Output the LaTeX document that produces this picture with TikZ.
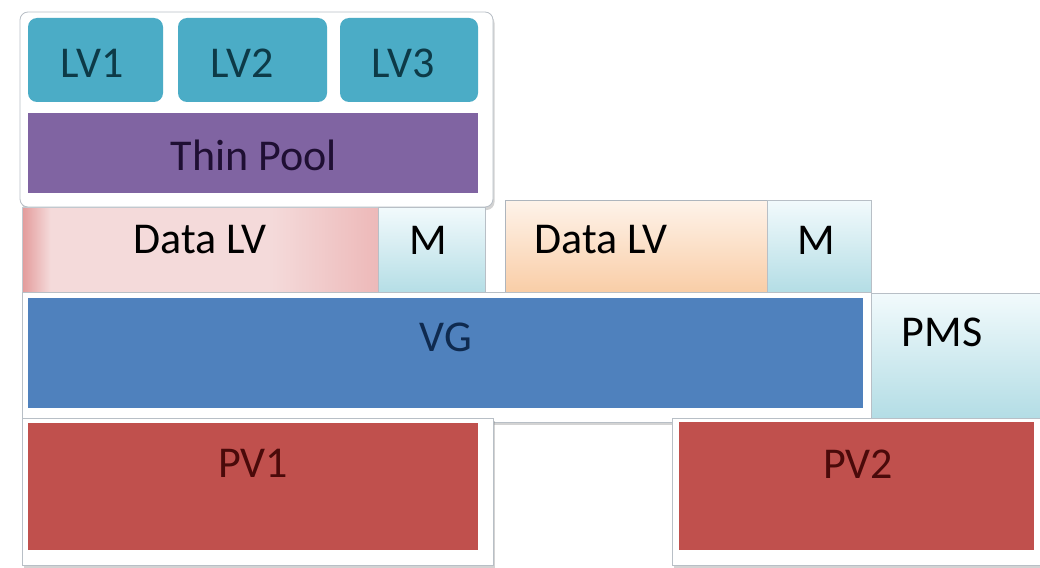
\documentclass[tikz,border=0pt]{standalone}
\usepackage{fontspec}
\setmainfont{Carlito}
\usetikzlibrary{shadows}
\usetikzlibrary{positioning}

\definecolor{lvaqua}{HTML}{4BACC6}
\definecolor{poolpurple}{HTML}{8064A2}
\definecolor{vgblue}{HTML}{4F81BD}
\definecolor{pvred}{HTML}{C0504D}
\definecolor{frameedge}{HTML}{9AA3AD}
\definecolor{lvtext}{HTML}{0D3A47}
\definecolor{pooltext}{HTML}{1F0F33}
\definecolor{vgtext}{HTML}{0F2A4F}
\definecolor{pvtext}{HTML}{4A0A0A}
\definecolor{pinkdeep}{HTML}{E39A9A}
\definecolor{pinklight}{HTML}{F4DADA}
\definecolor{pinkmid}{HTML}{EDB9B9}
\definecolor{metatop}{HTML}{F2FAFC}
\definecolor{metabottom}{HTML}{B3DDE5}
\definecolor{peachtop}{HTML}{FEF3EA}
\definecolor{peachbottom}{HTML}{F9CDA6}

% left-to-right pink wash of the first data volume
\pgfdeclarehorizontalshading{datapink}{100bp}{color(0bp)=(pinkdeep); color(25bp)=(pinkdeep);
  color(29bp)=(pinklight); color(60bp)=(pinklight); color(75bp)=(pinkmid); color(100bp)=(pinkmid)}

\tikzset{
  frame/.style={rectangle, fill=white, draw=frameedge!70, line width=0.8pt, inner sep=0pt,
                drop shadow={opacity=0.35, shadow xshift=1.5pt, shadow yshift=-3pt}},
  block/.style={rectangle, inner sep=0pt, outer sep=0pt},
  metabox/.style={block, draw=frameedge!70, top color=metatop, bottom color=metabottom},
  tag/.style={font=\fontsize{44}{52}\selectfont, inner sep=0pt},
}

\begin{document}
\begin{tikzpicture}[x=1pt, y=-1pt]
        \useasboundingbox (0,0) rectangle (1040,567);

        % Top group: logical volumes over the thin pool
        \node[frame, rounded corners=8pt, minimum width=473pt, minimum height=195pt] (topframe) at (256.5,109.5) {};
        \node[block, fill=lvaqua, rounded corners=9pt, minimum width=135pt, minimum height=84pt] (lv1) at (95.5,60) {};
        \node[block, fill=lvaqua, rounded corners=9pt, minimum width=149pt, minimum height=84pt] (lv2) at (252.5,60) {};
        \node[block, fill=lvaqua, rounded corners=9pt, minimum width=138pt, minimum height=84pt] (lv3) at (409,60) {};
        \node[block, fill=poolpurple, minimum width=450pt, minimum height=80pt] (pool) at (253,153) {};

        \node[tag, text=lvtext] (lv1_label) at (92,63) {LV1};
        \node[tag, text=lvtext] (lv2_label) at (242,63) {LV2};
        \node[tag, text=lvtext] (lv3_label) at (403,63) {LV3};
        \node[tag, text=pooltext] (pool_label) at (254,155) {Thin Pool};

        % Data and metadata volumes
        \node[block, draw=frameedge!60, shading=datapink,
              minimum width=356pt, minimum height=88pt] (data1) at (200,251) {};
        \node[metabox, minimum width=107pt, minimum height=88pt] (meta1) at (431.5,251) {};
        \node[block, draw=frameedge!80, top color=peachtop, bottom color=peachbottom,
              minimum width=262pt, minimum height=93pt] (data2) at (636,246.5) {};
        \node[metabox, minimum width=104pt, minimum height=93pt] (meta2) at (819,246.5) {};

        \node[tag] (data1_label) at (200,240) {Data LV};
        \node[tag] (meta1_label) at (428,240) {M};
        \node[tag] (data2_label) at (601,240) {Data LV};
        \node[tag] (meta2_label) at (816,240) {M};

        % Volume group and its metadata area
        \node[frame, minimum width=849pt, minimum height=130pt] (vgframe) at (446.5,357) {};
        \node[block, fill=vgblue, minimum width=835pt, minimum height=110pt] (vg) at (445.5,353) {};
        \node[metabox, minimum width=169pt, minimum height=125pt] (pms) at (955.5,355.5) {};

        \node[tag, text=vgtext] (vg_label) at (446,337) {VG};
        \node[tag] (pms_label) at (942,332) {PMS};

        % Physical volumes
        \node[frame, minimum width=471pt, minimum height=147pt] (pv1frame) at (257.5,491.5) {};
        \node[frame, minimum width=368pt, minimum height=147pt] (pv2frame) at (856,491.5) {};
        \node[block, fill=pvred, minimum width=450pt, minimum height=127pt] (pv1) at (253,486.5) {};
        \node[block, fill=pvred, minimum width=355pt, minimum height=128pt] (pv2) at (856.5,486) {};

        \node[tag, text=pvtext] (pv1_label) at (253,463) {PV1};
        \node[tag, text=pvtext] (pv2_label) at (858,464) {PV2};

\end{tikzpicture}
\end{document}
